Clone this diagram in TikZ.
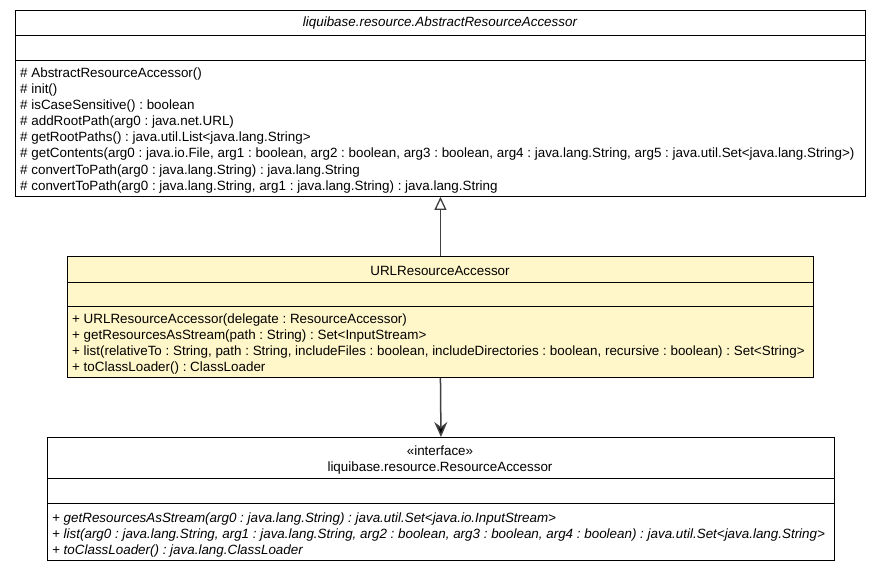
\documentclass[tikz,border=0pt]{standalone}
\usepackage{fontspec}
\setmainfont{Liberation Sans}
\usetikzlibrary{arrows.meta}
\definecolor{classfill}{HTML}{FFF7C9}
\definecolor{edgegray}{HTML}{404040}
\frenchspacing
\begin{document}
\begin{tikzpicture}[x=1pt,y=-1pt,
  umlbox/.style={draw=black, line width=0.9pt, rectangle, anchor=north west, inner sep=0pt},
  txt/.style={inner sep=0pt, font=\fontsize{13.4}{16.1}\selectfont, align=left},
  ttl/.style={inner sep=0pt, font=\fontsize{13.4}{16.1}\selectfont, align=center},
  sep/.style={draw=black, line width=0.9pt},
  gen/.style={draw=edgegray, line width=1.5pt, -{Triangle[open, length=13pt, width=12pt, line width=1.3pt]}},
  dep/.style={draw=edgegray, line width=1.5pt, -{Stealth[length=15pt, width=13pt, inset=5pt, fill=black]}}
]
\useasboundingbox (0,0) rectangle (880,571);
\fill[white] (0,0) rectangle (880,571);

% top box
\node[umlbox, minimum width=850pt, minimum height=186pt] (top) at (15,10) {};
\draw[sep] (15,35) -- (865,35);
\draw[sep] (15,60) -- (865,60);
\node[ttl, font=\fontsize{13.4}{16.1}\selectfont\itshape] (toptitle) at (440,23) {liquibase.resource.AbstractResourceAccessor};
\node[txt, anchor=north west] (topops) at (20,67.5) {%
\# AbstractResourceAccessor()\\
\# init()\\
\# isCaseSensitive() : boolean\\
\# addRootPath(arg0 : java.net.URL)\\
\# getRootPaths() : java.util.List<java.lang.String>\\
\# getContents(arg0 : java.io.File, arg1 : boolean, arg2 : boolean, arg3 : boolean, arg4 : java.lang.String, arg5 : java.util.Set<java.lang.String>)\\
\# convertToPath(arg0 : java.lang.String) : java.lang.String\\
\# convertToPath(arg0 : java.lang.String, arg1 : java.lang.String) : java.lang.String};

% middle box
\node[umlbox, fill=classfill, minimum width=746pt, minimum height=121pt] (mid) at (67,256) {};
\draw[sep] (67,282) -- (813,282);
\draw[sep] (67,306) -- (813,306);
\node[ttl] (midtitle) at (440,270.5) {URLResourceAccessor};
\node[txt, anchor=north west] (midops) at (72,313.5) {%
+ URLResourceAccessor(delegate : ResourceAccessor)\\
+ getResourcesAsStream(path : String) : Set<InputStream>\\
+ list(relativeTo : String, path : String, includeFiles : boolean, includeDirectories : boolean, recursive : boolean) : Set<String>\\
+ toClassLoader() : ClassLoader};

% bottom box
\node[umlbox, minimum width=787pt, minimum height=123pt] (bot) at (47,437) {};
\draw[sep] (47,478) -- (834,478);
\draw[sep] (47,503) -- (834,503);
\node[ttl] (botstereo) at (440,451) {«interface»};
\node[ttl] (bottitle) at (440,468) {liquibase.resource.ResourceAccessor};
\node[txt, anchor=north west, font=\fontsize{13.4}{16.1}\selectfont\itshape] (botops) at (52,512.5) {%
+ getResourcesAsStream(arg0 : java.lang.String) : java.util.Set<java.io.InputStream>\\
+ list(arg0 : java.lang.String, arg1 : java.lang.String, arg2 : boolean, arg3 : boolean, arg4 : boolean) : java.util.Set<java.lang.String>\\
+ toClassLoader() : java.lang.ClassLoader};

% connectors
\draw[gen] (mid.north) -- (top.south);
\draw[dep] (mid.south) -- (bot.north);
\end{tikzpicture}
\end{document}
